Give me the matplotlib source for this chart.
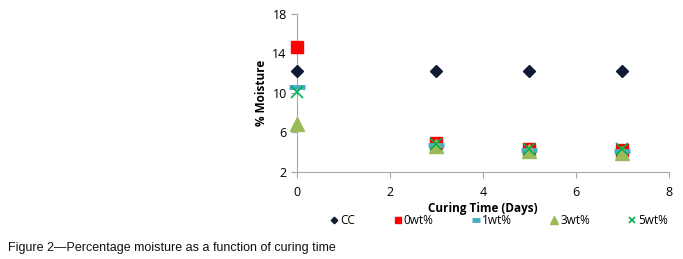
import matplotlib.pyplot as plt
import numpy as np

# curing time (days) and % moisture per mix
days = [0, 3, 5, 7]
cc = [12.2, 12.2, 12.2, 12.2]
wt0 = [14.7, 4.95, 4.35, 4.25]
wt1 = [10.6, 4.7, 4.2, 4.1]
wt3 = [6.9, 4.65, 4.15, 3.95]
wt5 = [10.1, 4.8, 4.3, 4.3]

series = [
	('CC', cc, 'D', '#0F1B33', 6, 1.0),
	('0wt%', wt0, 's', '#FF0000', 9, 1.0),
	('1wt%', wt1, '_', '#4BACC6', 11, 3.5),
	('3wt%', wt3, '^', '#9BBB59', 10, 1.0),
	('5wt%', wt5, 'x', '#00B050', 8, 1.2),
]

plt.rcParams['font.family'] = ['Open Sans', 'DejaVu Sans']

fig = plt.figure(figsize=(6.83, 2.59), dpi=100)
ax = fig.add_axes([0.435, 0.336, 0.544, 0.61])

for name, vals, mk, col, ms, mew in series:
	if mk in ('_', 'x'):
		ax.plot(days, vals, linestyle='none', marker=mk, color=col, markersize=ms,
			markeredgewidth=mew, label=name, clip_on=False, zorder=3)
	else:
		ax.plot(days, vals, linestyle='none', marker=mk, color=col, markersize=ms,
			markeredgecolor=col, label=name, clip_on=False, zorder=3)

ax.set_xlim(0, 8)
ax.set_ylim(2, 18)
ax.set_xticks([0, 2, 4, 6, 8])
ax.set_yticks([2, 6, 10, 14, 18])
for s in ['top', 'right']:
	ax.spines[s].set_visible(False)
for s in ['left', 'bottom']:
	ax.spines[s].set_color('#A6A6A6')
ax.tick_params(colors='#A6A6A6', labelcolor='black', labelsize=9, length=4, width=0.8)
ax.tick_params(axis='x', pad=6)

ax.set_xlabel('Curing Time (Days)', fontsize=8.5, fontweight='bold', labelpad=2)
ax.set_ylabel('% Moisture', fontsize=8.5, fontweight='bold', labelpad=3)

leg = ax.legend(loc='upper center', bbox_to_anchor=(0.545, -0.2), ncol=5, frameon=False,
	fontsize=8.5, handlelength=0.6, handletextpad=0.2, columnspacing=3.3, markerscale=0.55)

fig.text(0.012, 0.032, 'Figure 2\u2014Percentage moisture as a function of curing time',
	fontsize=9, family=['Liberation Sans Narrow', 'Liberation Sans', 'DejaVu Sans'], color='#111111')

plt.savefig('out.png', dpi=100)
